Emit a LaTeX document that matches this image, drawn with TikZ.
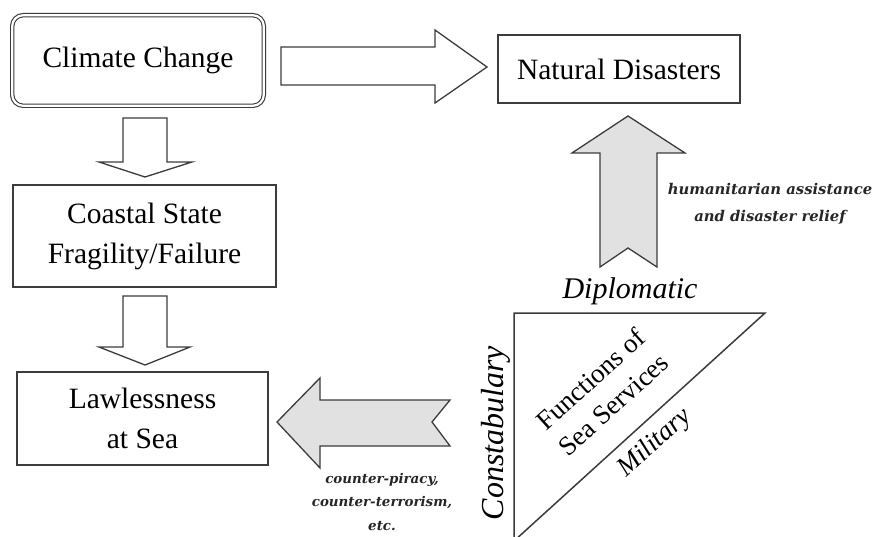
\documentclass[tikz,border=0pt]{standalone}
\usepackage{fontspec}
\setmainfont{Liberation Serif}
\newfontfamily\handfont{DejaVu Serif}
\definecolor{lc}{HTML}{3C3C3C}
\definecolor{gf}{HTML}{E1E1E1}
\tikzset{
  box/.style={draw=lc, line width=1.3pt, fill=white, align=center, inner sep=0pt,
    font=\fontsize{29.5}{40}\selectfont},
  hollow/.style={draw=lc, line width=1.3pt, fill=white, line join=miter},
  grayarrow/.style={draw=lc, line width=1.3pt, fill=gf, line join=miter},
  note/.style={align=center, inner sep=0pt, text=black!85,
    font=\handfont\bfseries\itshape\fontsize{14.8}{27}\selectfont},
  bigit/.style={inner sep=0pt, font=\itshape\fontsize{30}{36}\selectfont},
  diag/.style={inner sep=0pt, align=center, rotate=42, font=\fontsize{27}{34}\selectfont}
}
\begin{document}
\begin{tikzpicture}[x=1pt,y=-1pt]
\useasboundingbox[fill=white] (0,0) rectangle (880,537);
\begin{scope}
\clip (0,0) rectangle (880,537);
% boxes
\node[box, minimum width=251.6pt, minimum height=90.6pt, rounded corners=11pt,
      double, double distance=2.2pt, line width=1.1pt] (cc) at (138,60.5) {Climate Change};
\node[box, minimum width=242pt, minimum height=68pt] (nd) at (619,69) {Natural Disasters};
\node[box, minimum width=263pt, minimum height=102pt] (cs) at (144.5,236) {Coastal State\\Fragility/Failure};
\node[box, minimum width=251pt, minimum height=93pt] (ls) at (142.5,418.5) {Lawlessness\\at Sea};
% hollow arrows
\draw[hollow] (281,47) -- (435,47) -- (435,30) -- (487,67) -- (435,103) -- (435,85) -- (281,85) -- cycle;
\draw[hollow] (123,118) -- (167,118) -- (167,162) -- (192,162) -- (145,177) -- (99,162) -- (123,162) -- cycle;
\draw[hollow] (123,296) -- (167,296) -- (167,347) -- (190,347) -- (145,365) -- (99,347) -- (123,347) -- cycle;
% gray arrows
\draw[grayarrow] (628,116) -- (685,153) -- (657,153) -- (657,267) -- (628,248) -- (600,267) -- (600,153) -- (572,153) -- cycle;
\draw[grayarrow] (277,422) -- (320,378) -- (320,400) -- (450,400) -- (432,422) -- (450,446) -- (320,446) -- (320,468) -- cycle;
% triangle
\coordinate (t1) at (514,313);
\coordinate (t2) at (765,313);
\coordinate (t3) at (514,541);
\draw[draw=lc, line width=1.5pt, line join=miter] (t3) -- (t1) -- (t2) -- cycle;
\end{scope}
% labels
\node[note] (ha) at (770,203.5) {humanitarian assistance\\and disaster relief};
\node[note, font=\handfont\bfseries\itshape\fontsize{13.4}{23.5}\selectfont] (cp) at (382,502) {counter-piracy,\\counter-terrorism,\\etc.};
\node[bigit, anchor=base] (dip) at (630,298) {Diplomatic};
\node[bigit, rotate=90, font=\itshape\fontsize{32}{36}\selectfont] (con) at (496,433) {Constabulary};
\node[diag] (fs) at (602,392) {Functions of\\Sea Services};
\node[diag, font=\itshape\fontsize{27}{34}\selectfont] (mil) at (655,443) {Military};
\end{tikzpicture}
\end{document}
